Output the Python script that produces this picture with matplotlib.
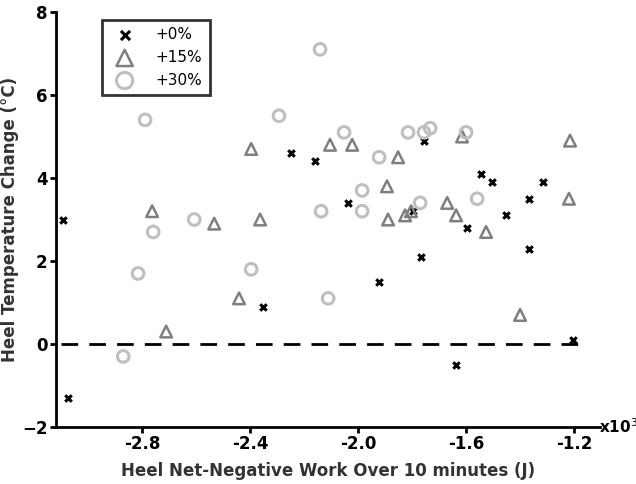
import matplotlib
matplotlib.use("Agg")
import matplotlib.pyplot as plt
import numpy as np

x0 = [-3093,-3074,-2352,-2248,-2159,-2037,-1922,-1796,-1767,-1756,-1637,-1596,-1544,-1504,-1452,-1367,-1367,-1315,-1204]
y0 = [3.0,-1.3,0.9,4.6,4.4,3.4,1.5,3.2,2.1,4.9,-0.5,2.8,4.1,3.9,3.1,3.5,2.3,3.9,0.1]
x15 = [-2763,-2711,-2533,-2441,-2396,-2363,-2104,-2022,-1893,-1889,-1852,-1826,-1804,-1670,-1637,-1615,-1526,-1400,-1215,-1219]
y15 = [3.2,0.3,2.9,1.1,4.7,3.0,4.8,4.8,3.8,3.0,4.5,3.1,3.2,3.4,3.1,5.0,2.7,0.7,4.9,3.5]
x30 = [-2789,-2759,-2815,-2870,-2607,-2396,-2293,-2141,-2137,-2111,-2052,-1985,-1985,-1922,-1815,-1770,-1756,-1733,-1600,-1559]
y30 = [5.4,2.7,1.7,-0.3,3.0,1.8,5.5,7.1,3.2,1.1,5.1,3.7,3.2,4.5,5.1,3.4,5.1,5.2,5.1,3.5]
xticks = [-2800,-2400,-2000,-1600,-1200]
xtick_labels = ["-2.8","-2.4","-2.0","-1.6","-1.2"]
yticks = [-2,0,2,4,6,8]

fig = plt.figure(figsize=(6.36,4.84), dpi=100)
ax = fig.add_axes([56/636, (484-427)/484, 544/636, (427-12)/484])
ax.axhline(0, xmin=0.01, xmax=0.97, color="black", ls=(0,(6,4)), lw=2, zorder=1)
ax.scatter(x0, y0, marker="x", s=22, color="black", linewidths=2.2, label="+0%", zorder=3)
ax.scatter(x15, y15, marker="^", s=70, facecolors="none", edgecolors="#7f7f7f", linewidths=1.8, label="+15%", zorder=3)
ax.scatter(x30, y30, marker="o", s=70, facecolors="none", edgecolors="#bfbfbf", linewidths=2.2, label="+30%", zorder=3)
ax.set_xlim(-3119, -1104)
ax.set_ylim(-2, 8)
ax.set_xticks(xticks)
ax.set_xticklabels(xtick_labels)
ax.set_yticks(yticks)
for s in ["top","right"]:
    ax.spines[s].set_visible(False)
for s in ["left","bottom"]:
    ax.spines[s].set_linewidth(2)
ax.tick_params(width=2, length=4, labelsize=12, pad=2)
for t in ax.get_xticklabels()+ax.get_yticklabels():
    t.set_fontweight("bold")
ax.set_xlabel("Heel Net-Negative Work Over 10 minutes (J)", fontsize=12, fontweight="bold", color="#333333", labelpad=6)
ax.set_ylabel("Heel Temperature Change (°C)", fontsize=12, fontweight="bold", color="#333333", labelpad=2)
ax.text(0.998, 0.0, "x10$^3$", transform=ax.transAxes, fontsize=11, fontweight="bold", va="center", ha="left")
leg = ax.legend(loc="upper left", bbox_to_anchor=(0.07, 1.0), fontsize=11, frameon=True, fancybox=False,
                edgecolor="black", handletextpad=1.0, borderpad=0.5, markerscale=1.4)
leg.get_frame().set_linewidth(2)
fig.savefig("out.png", dpi=100)
